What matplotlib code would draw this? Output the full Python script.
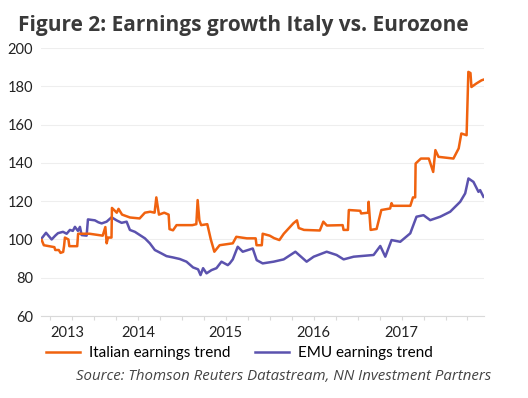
import matplotlib
matplotlib.use("Agg")
import matplotlib.pyplot as plt
from matplotlib.lines import Line2D

# dates as decimal years
ita_t = [2012.906, 2012.93, 2013.05, 2013.06, 2013.10, 2013.12, 2013.15, 2013.16, 2013.17,
         2013.21, 2013.22, 2013.31, 2013.32, 2013.45, 2013.60, 2013.63, 2013.645, 2013.66,
         2013.70, 2013.705, 2013.76, 2013.78, 2013.82, 2013.91, 2014.02, 2014.08, 2014.14,
         2014.19, 2014.21, 2014.24, 2014.30, 2014.35, 2014.36, 2014.40, 2014.44, 2014.62,
         2014.665, 2014.68, 2014.70, 2014.72, 2014.79, 2014.83, 2014.87, 2014.93, 2015.08,
         2015.12, 2015.24, 2015.34, 2015.35, 2015.41, 2015.42, 2015.50, 2015.55, 2015.61,
         2015.66, 2015.77, 2015.81, 2015.83, 2015.89, 2016.07, 2016.11, 2016.15, 2016.33,
         2016.34, 2016.39, 2016.40, 2016.53, 2016.54, 2016.62, 2016.625, 2016.648, 2016.716,
         2016.77, 2016.87, 2016.886, 2016.90, 2017.10, 2017.13, 2017.155, 2017.16, 2017.22,
         2017.31, 2017.36, 2017.385, 2017.42, 2017.59, 2017.65, 2017.68, 2017.74, 2017.76,
         2017.784, 2017.795, 2017.85, 2017.91, 2017.93]
ita_v = [99.7, 97, 96, 94.5, 94.5, 93, 93.5, 96.5, 101,
         100, 96.5, 96.5, 103, 103, 102, 106.5, 98, 101,
         101, 116.5, 114, 116, 113, 111.5, 111, 114, 114.5,
         114, 122, 113, 114, 113, 105.4, 104.8, 107.5, 107.5,
         108, 120.6, 110, 107.5, 108, 100, 93.6, 97, 98,
         101.4, 100.6, 100.6, 97, 97, 103, 102, 100.7, 99.7,
         103, 108.5, 110, 106, 105, 104.7, 109.3, 107.3, 107.5,
         105, 105, 115.4, 115, 113.6, 114, 119.7, 105, 105.5,
         115.4, 116.2, 119, 117.6, 117.6, 122, 122, 139.7, 142.3,
         142.3, 135.3, 146.7, 143.2, 142.3, 147.6, 155.4, 154.5, 187.6,
         187, 179.7, 181.5, 183.2, 183.5]

emu_t = [2012.906, 2012.955, 2013.019, 2013.06, 2013.091, 2013.148, 2013.19, 2013.227,
         2013.26, 2013.284, 2013.318, 2013.341, 2013.36, 2013.417, 2013.432, 2013.511,
         2013.55, 2013.588, 2013.644, 2013.701, 2013.758, 2013.815, 2013.872, 2013.909,
         2013.966, 2014.023, 2014.080, 2014.136, 2014.193, 2014.269, 2014.326, 2014.401,
         2014.477, 2014.553, 2014.628, 2014.685, 2014.713, 2014.742, 2014.781, 2014.838,
         2014.894, 2014.951, 2015.023, 2015.045, 2015.080, 2015.136, 2015.193, 2015.307,
         2015.352, 2015.420, 2015.545, 2015.659, 2015.792, 2015.920, 2016.0, 2016.148,
         2016.261, 2016.341, 2016.455, 2016.682, 2016.758, 2016.815, 2016.886, 2016.985,
         2017.099, 2017.170, 2017.25, 2017.326, 2017.44, 2017.553, 2017.667, 2017.724,
         2017.761, 2017.818, 2017.875, 2017.894, 2017.932]
emu_v = [100.6, 103.5, 100, 102, 103.3, 104, 103, 105,
         104.5, 106.6, 104.5, 106.6, 102.3, 102, 110.5, 110,
         109, 108.4, 109.3, 111.6, 110, 108.7, 109.3, 105,
         104, 102.3, 100.6, 98, 94.5, 92.7, 91.3, 90.6,
         89.8, 88.4, 85.4, 84.4, 81.4, 85, 82.3, 84,
         85, 88.4, 86.6, 87.5, 89.6, 96.2, 93.6, 95.3,
         89.2, 87.5, 88.4, 89.6, 93.6, 88.4, 91, 93.6,
         91.9, 89.6, 91, 91.9, 96.6, 91, 99.7, 98.8,
         103.2, 111.9, 112.7, 110.1, 111.9, 114.5, 119.7, 124.1,
         131.9, 130.1, 124.9, 125.8, 122.3]

year_pos = [2013.2, 2014, 2015, 2016, 2017]
year_labels = ["2013", "2014", "2015", "2016", "2017"]
quarter_ticks = [2013 + 0.25 * i for i in range(20)]

orange = "#F0620F"
purple = "#5B52AE"

fig = plt.figure(figsize=(5.28, 3.98), dpi=100)
ax = fig.add_axes([0.078, 0.206, 0.839, 0.673])

ax.plot(emu_t, emu_v, color=purple, lw=1.8)
ax.plot(ita_t, ita_v, color=orange, lw=1.8)

ax.set_xlim(2012.9, 2017.94)
ax.set_ylim(60, 200)
ax.set_yticks(range(60, 201, 20))
ax.grid(axis="y", color="#EEEEEE", lw=0.8)
ax.set_axisbelow(True)
for s in ["top", "right", "left"]:
    ax.spines[s].set_visible(False)
ax.spines["bottom"].set_color("#D9D9D9")

# quarter tick marks as majors, year labels as minors
ax.xaxis.remove_overlapping_locs = False
ax.set_xticks(quarter_ticks)
ax.set_xticklabels([])
ax.tick_params(axis="x", which="major", length=3, color="#D9D9D9")
ax.set_xticks(year_pos, minor=True)
ax.set_xticklabels(year_labels, minor=True, fontsize=10.5, family="Lato", color="#222222")
ax.tick_params(axis="x", which="minor", length=0, pad=7)
ax.tick_params(axis="y", length=0, labelsize=10.5, labelcolor="#222222", pad=6)
for lab in ax.get_yticklabels():
    lab.set_family("Lato")

fig.text(0.034, 0.935, "Figure 2: Earnings growth Italy vs. Eurozone", fontsize=15,
         fontweight="bold", color="#3a3a3a", family="Open Sans", va="center")

handles = [Line2D([], [], color=orange, lw=1.8), Line2D([], [], color=purple, lw=1.8)]
fig.legend(handles, ["Italian earnings trend", "EMU earnings trend"], loc="center left",
           bbox_to_anchor=(0.062, 0.113), ncol=2, frameon=False, handlelength=2.2,
           handletextpad=0.6, columnspacing=1.6, prop={"family": "Lato", "size": 11})
fig.text(0.93, 0.055, "Source: Thomson Reuters Datastream, NN Investment Partners",
         fontsize=10.8, style="italic", color="#444444", ha="right", va="center",
         family="Open Sans")

fig.savefig("out.png", dpi=100)
